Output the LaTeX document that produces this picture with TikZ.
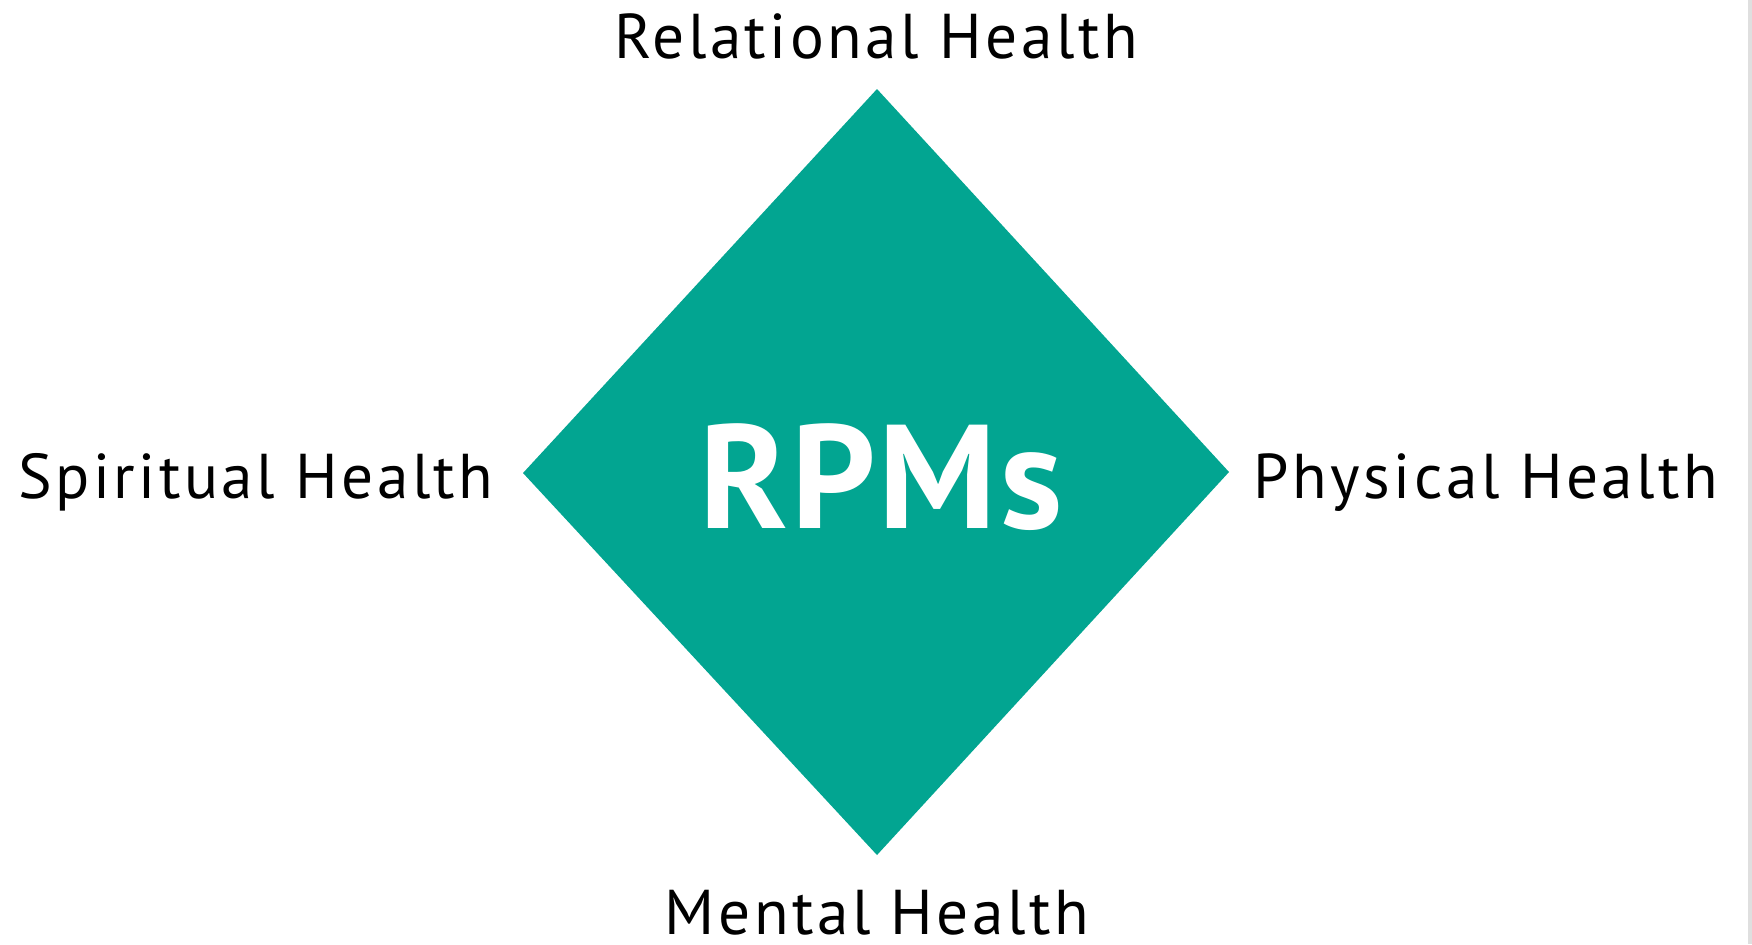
\documentclass[tikz,border=0pt]{standalone}
\usepackage{fontspec}
\setmainfont{PT Sans}
\newfontfamily\labelfont[LetterSpace=5.5]{PT Sans}
\newfontfamily\rpmfont[LetterSpace=2]{PT Sans}
\definecolor{rpmteal}{RGB}{2,165,145}
\tikzset{
  healthlabel/.style={anchor=base, inner sep=0pt, text depth=0pt, font=\labelfont\fontsize{18}{20}\selectfont},
}
\begin{document}
\begin{tikzpicture}[x=0.01cm, y=-0.01cm]
\useasboundingbox (0,0) rectangle (1752,944);
\fill[gray!25] (1748,0) rectangle (1752,944);
\coordinate (top) at (877,89);
\coordinate (right) at (1229,472);
\coordinate (bottom) at (877,855);
\coordinate (left) at (523,473);
\fill[rpmteal] (top) -- (right) -- (bottom) -- (left) -- cycle;
\node[anchor=base, inner sep=0pt, text=white, font=\rpmfont\fontsize{42}{44}\selectfont\bfseries] (rpms) at (881,528) {RPMs};
\node[healthlabel] (relational) at (876,58) {Relational Health};
\node[healthlabel] (spiritual) at (256,498) {Spiritual Health};
\node[healthlabel] (physical) at (1486,498) {Physical Health};
\node[healthlabel] (mental) at (877,934) {Mental Health};
\end{tikzpicture}
\end{document}
